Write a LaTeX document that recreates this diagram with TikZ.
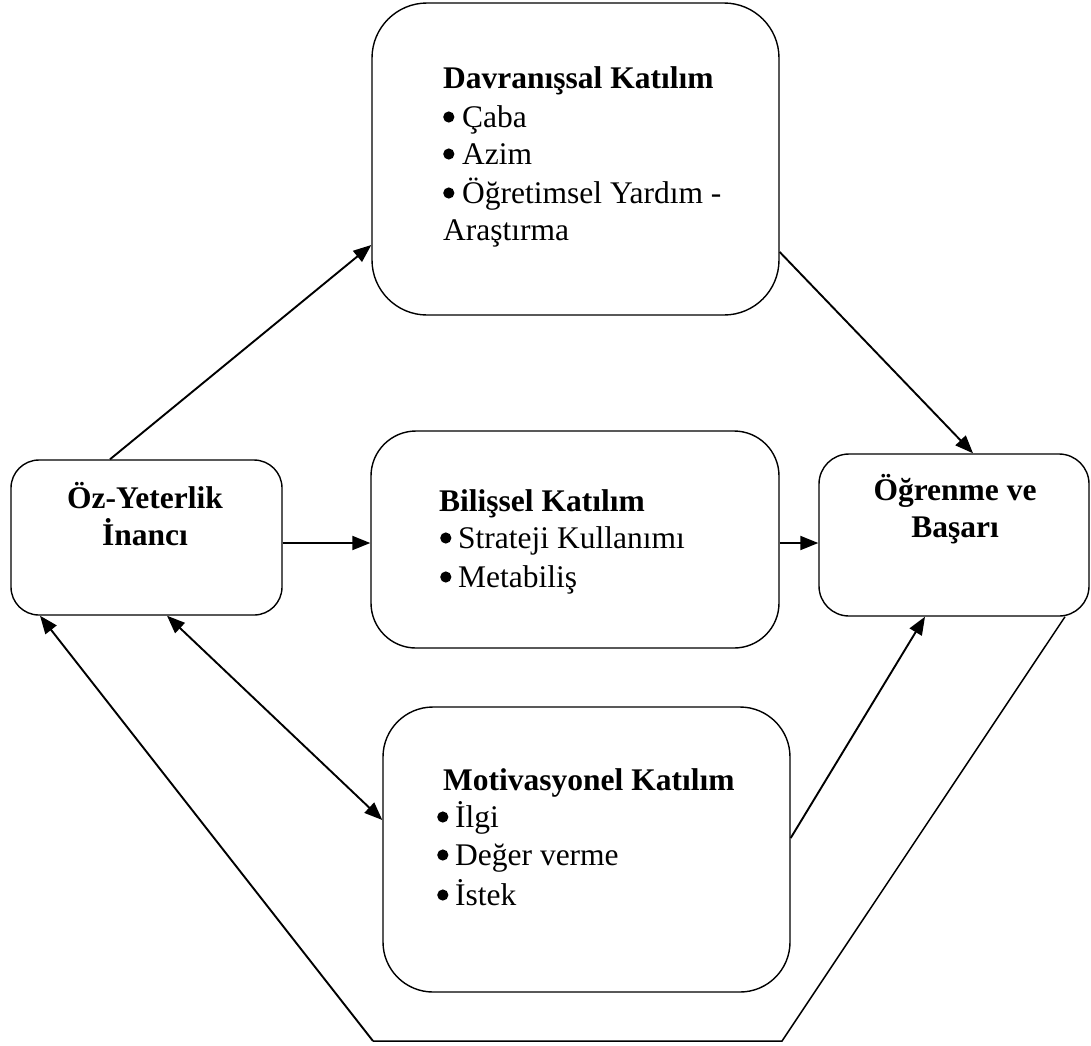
\documentclass[tikz,border=0pt]{standalone}
\usepackage{fontspec}
\setmainfont{Liberation Serif}
\usetikzlibrary{arrows.meta}
\tikzset{
  box/.style={draw, line width=1.4pt, rounded corners=#1, inner sep=0pt, fill=white},
  txt/.style={anchor=base west, inner sep=0pt, font=\fontsize{31.5}{37.5}\selectfont},
  ctxt/.style={anchor=base, inner sep=0pt, font=\fontsize{31.5}{37.5}\selectfont\bfseries},
  conn/.style={line width=1.9pt, -{Triangle[length=18pt,width=14pt]}},
  dconn/.style={line width=1.9pt, {Triangle[length=18pt,width=14pt]}-{Triangle[length=18pt,width=14pt]}},
  plain/.style={line width=1.5pt}
}
\newcommand{\bul}[1]{\makebox[#1][l]{\tikz[baseline=0pt]\fill (5.6pt,10pt) circle (5.6pt);}}
\begin{document}
\begin{tikzpicture}[x=1pt,y=-1pt]
\useasboundingbox (0,0) rectangle (1091,1045);
% boxes
\node[box=55pt, minimum width=407pt, minimum height=312pt] (dav) at (575.5,159) {};
\node[box=28pt, minimum width=271pt, minimum height=155pt] (oz) at (146.5,537.5) {};
\node[box=45pt, minimum width=408pt, minimum height=217pt] (bil) at (575,539.5) {};
\node[box=30pt, minimum width=270pt, minimum height=162pt] (ogr) at (954,535) {};
\node[box=50pt, minimum width=407pt, minimum height=285pt] (mot) at (586.5,849.5) {};
% texts
\node[txt] (d0) at (443,88) {\bfseries Davranışsal Katılım};
\node[txt] (d1) at (443,127) {\bul{19pt}Çaba};
\node[txt] (d2) at (443,164) {\bul{19pt}Azim};
\node[txt] (d3) at (443,203) {\bul{19pt}Öğretimsel Yardım -};
\node[txt] (d4) at (443,240) {Araştırma};
\node[ctxt] (o0) at (145,508) {Öz-Yeterlik};
\node[ctxt] (o1) at (145,545) {İnancı};
\node[txt] (b0) at (439,511) {\bfseries Bilişsel Katılım};
\node[txt] (b1) at (440,548) {\bul{18pt}Strateji Kullanımı};
\node[txt] (b2) at (440,587) {\bul{18pt}Metabiliş};
\node[ctxt] (g0) at (955,500) {Öğrenme ve};
\node[ctxt] (g1) at (955,537) {Başarı};
\node[txt] (m0) at (443,790) {\bfseries Motivasyonel Katılım};
\node[txt] (m1) at (437,827) {\bul{18pt}İlgi};
\node[txt] (m2) at (437,865) {\bul{18pt}Değer verme};
\node[txt] (m3) at (437,905) {\bul{18pt}İstek};
% connectors
\draw[conn] ([xshift=-36.5pt]oz.north) -- ([yshift=-86pt]dav.west);
\draw[conn] ([yshift=-93pt]dav.east) -- ([xshift=19pt]ogr.north);
\draw[conn] ([yshift=-5.5pt]oz.east) -- ([yshift=-5.5pt]oz.east -| bil.west);
\draw[conn] ([yshift=-3.5pt]bil.east) -- ([yshift=-3.5pt]bil.east -| ogr.west);
\draw[dconn] ([xshift=20.5pt]oz.south) -- ([yshift=29.5pt]mot.west);
\draw[conn] ([yshift=11.5pt]mot.east) -- ([xshift=-29pt]ogr.south);
\coordinate (fb1) at (782,1041);
\coordinate (fb2) at (373,1041);
\draw[plain] ([xshift=111pt]ogr.south) -- (fb1) -- (fb2);
\draw[conn] (fb2) -- ([xshift=-106.5pt]oz.south);
\end{tikzpicture}
\end{document}
